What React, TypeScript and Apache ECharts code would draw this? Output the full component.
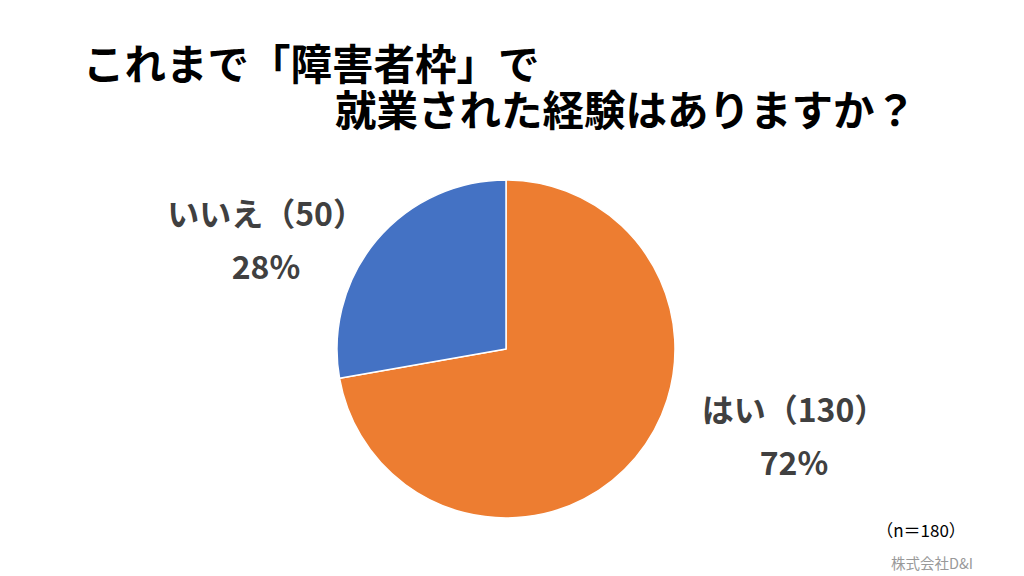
import React, { useEffect, useRef } from "react";
import * as echarts from "echarts";

const categories = ["はい", "いいえ"];
const values = [130, 50];
const colors = ["#ED7D31", "#4472C4"];
const titleLines = ["これまで「障害者枠」で", "就業された経験はありますか？"];
const sampleNote = "（n＝180）";
const credit = "株式会社D&I";

const FONT = '"Noto Sans CJK JP", "Noto Sans", sans-serif';

export default function App() {
  const ref = useRef<HTMLDivElement>(null);
  useEffect(() => {
    if (!ref.current) return;
    const chart = echarts.init(ref.current, undefined, { renderer: "svg" });
    const labelPos = [
      { x: 794, y: 434 },
      { x: 266, y: 238 },
    ];
    chart.setOption({
      animation: false,
      backgroundColor: "#ffffff",
      graphic: [
        {
          type: "text",
          x: 83,
          y: 84.5,
          style: {
            text: `{a|${titleLines[0]}}\n{b|${titleLines[1]}}`,
            font: `bold 41.5px ${FONT}`,
            fill: "#000000",
            align: "left",
            verticalAlign: "middle",
            rich: {
              a: {
                font: `bold 41.5px ${FONT}`,
                fill: "#000000",
                lineHeight: 46,
              },
              b: {
                font: `bold 41.5px ${FONT}`,
                fill: "#000000",
                lineHeight: 46,
                padding: [0, 0, 0, 252],
              },
            },
          },
        },
        {
          type: "text",
          x: 921,
          y: 529,
          style: {
            text: sampleNote,
            font: `17px ${FONT}`,
            fill: "#000000",
            align: "center",
            verticalAlign: "middle",
          },
        },
        {
          type: "text",
          x: 932,
          y: 562,
          style: {
            text: credit,
            font: `14.5px ${FONT}`,
            fill: "#999999",
            align: "center",
            verticalAlign: "middle",
          },
        },
      ],
      series: [
        {
          type: "pie",
          center: [506, 349],
          radius: 169,
          startAngle: 90,
          clockwise: true,
          data: categories.map((c, i) => ({
            name: c,
            value: values[i],
            itemStyle: { color: colors[i] },
          })),
          itemStyle: { borderColor: "#ffffff", borderWidth: 1.5 },
          label: {
            show: true,
            position: "outside",
            formatter: (p: any) => `${p.name}（${p.value}）\n${Math.round(p.percent)}%`,
            fontFamily: FONT,
            fontWeight: "bold",
            fontSize: 32,
            lineHeight: 53,
            color: "#404040",
            align: "center",
          },
          labelLine: { show: false },
          labelLayout: (params: any) => ({
            x: labelPos[params.dataIndex].x,
            y: labelPos[params.dataIndex].y,
            align: "center",
            verticalAlign: "middle",
          }),
          emphasis: { disabled: true },
        },
      ],
    });
    return () => chart.dispose();
  }, []);
  return (
    <div
      ref={ref}
      style={{ position: "fixed", left: 0, top: 0, width: 1024, height: 576 }}
    />
  );
}
